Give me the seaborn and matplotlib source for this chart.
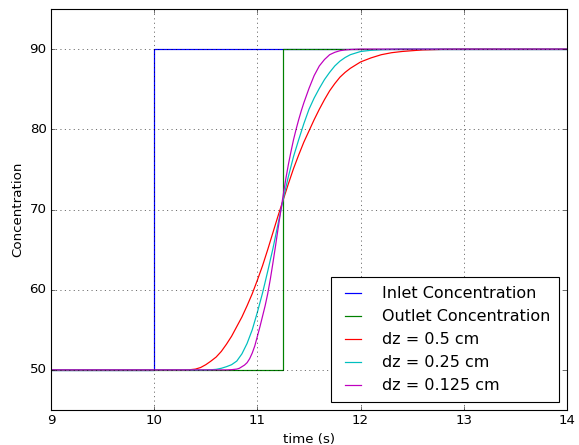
import matplotlib
matplotlib.use("Agg")
import matplotlib.pyplot as plt
import seaborn as sns
import pandas as pd

# ---- data ----
inlet_t = [9.0, 10.0, 10.0, 14.0]
inlet_c = [50.0, 50.0, 90.0, 90.0]

outlet_t = [9.0, 11.25, 11.25, 14.0]
outlet_c = [50.0, 50.0, 90.0, 90.0]

dz05_t = [9.0, 10.3, 10.35, 10.4, 10.45, 10.5, 10.55, 10.6, 10.65, 10.7, 10.75,
          10.8, 10.85, 10.9, 10.95, 11.0, 11.05, 11.1, 11.15, 11.2, 11.25, 11.3,
          11.35, 11.4, 11.45, 11.5, 11.55, 11.6, 11.65, 11.7, 11.75, 11.8, 11.85,
          11.9, 11.95, 12.0, 12.1, 12.2, 12.3, 12.4, 12.6, 12.8, 13.0, 14.0]
dz05_c = [50.0, 50.0, 50.03, 50.1, 50.3, 50.65, 51.1, 51.6, 52.3, 53.2, 54.2,
          55.4, 56.6, 58.0, 59.5, 61.2, 63.0, 65.0, 67.1, 69.2, 71.2, 73.2,
          75.1, 76.8, 78.4, 79.8, 81.2, 82.5, 83.7, 84.8, 85.7, 86.5, 87.1,
          87.6, 88.0, 88.4, 88.9, 89.3, 89.55, 89.7, 89.9, 89.97, 90.0, 90.0]

dz025_t = [9.0, 10.5, 10.55, 10.6, 10.65, 10.7, 10.75, 10.8, 10.85, 10.9, 10.95,
           11.0, 11.05, 11.1, 11.15, 11.2, 11.25, 11.3, 11.35, 11.4, 11.45, 11.5,
           11.55, 11.6, 11.65, 11.7, 11.75, 11.8, 11.85, 11.9, 12.0, 12.1, 12.2,
           12.4, 14.0]
dz025_c = [50.0, 50.0, 50.02, 50.07, 50.2, 50.4, 50.65, 51.1, 52.0, 53.3, 55.0,
           57.2, 59.6, 62.3, 65.1, 68.2, 71.3, 74.1, 76.6, 78.7, 80.7, 82.5,
           83.9, 85.1, 86.2, 87.1, 87.9, 88.5, 88.95, 89.3, 89.7, 89.85, 89.93,
           90.0, 90.0]

dz0125_t = [9.0, 10.7, 10.75, 10.8, 10.825, 10.85, 10.875, 10.9, 10.925, 10.95,
            10.975, 11.0, 11.025, 11.05, 11.075, 11.1, 11.125, 11.15, 11.175,
            11.2, 11.225, 11.25, 11.275, 11.3, 11.325, 11.35, 11.375, 11.4,
            11.425, 11.45, 11.475, 11.5, 11.525, 11.55, 11.575, 11.6, 11.625,
            11.65, 11.675, 11.7, 11.725, 11.75, 11.8, 11.85, 11.9, 12.0, 14.0]
dz0125_c = [50.0, 50.0, 50.03, 50.1, 50.2, 50.4, 50.6, 50.9, 51.4, 52.1,
            53.0, 54.2, 55.4, 56.7, 58.0, 59.5, 61.3, 63.3, 65.4,
            67.6, 69.7, 71.8, 73.8, 75.6, 77.2, 78.7, 80.0, 81.2,
            82.3, 83.3, 84.2, 85.1, 85.9, 86.7, 87.3, 87.9, 88.3,
            88.7, 89.0, 89.3, 89.45, 89.6, 89.8, 89.9, 89.95, 90.0, 90.0]

series_names = ["Inlet Concentration", "Outlet Concentration",
                "dz = 0.5 cm", "dz = 0.25 cm", "dz = 0.125 cm"]
series_colors = ["b", "g", "r", "c", "m"]
x_ticks = [9, 10, 11, 12, 13, 14]
y_ticks = [50, 60, 70, 80, 90]

frames = []
for name, t, c in zip(series_names,
                      [inlet_t, outlet_t, dz05_t, dz025_t, dz0125_t],
                      [inlet_c, outlet_c, dz05_c, dz025_c, dz0125_c]):
    frames.append(pd.DataFrame({"time": t, "conc": c, "series": name}))
df = pd.concat(frames, ignore_index=True)

plt.style.use("classic")
plt.rcParams["font.family"] = ["DejaVu Sans"]

fig = plt.figure(figsize=(579 / 80, 445 / 80), dpi=80)
ax = fig.add_axes([51 / 579, 1 - 410 / 445, (567 - 51) / 579, (410 - 9) / 445])

sns.lineplot(data=df, x="time", y="conc", hue="series",
             hue_order=series_names,
             palette=dict(zip(series_names, series_colors)),
             estimator=None, sort=False, linewidth=1.1, legend=False, ax=ax)

ax.set_xlim(9, 14)
ax.set_ylim(45, 95)
ax.set_xticks(x_ticks)
ax.set_yticks(y_ticks)
ax.set_xlabel("time (s)", fontsize=12)
ax.set_ylabel("Concentration", fontsize=12)
ax.tick_params(labelsize=12)
ax.grid(True, color="k", linestyle=":", linewidth=0.5)

leg = ax.legend(ax.lines[:len(series_names)], series_names,
                loc="lower right", fontsize=14.4,
                frameon=True, fancybox=False, shadow=False,
                handlelength=1.6, handletextpad=1.0, labelspacing=0.5,
                borderaxespad=0.5, borderpad=0.55)
leg.get_frame().set_edgecolor("k")
leg.get_frame().set_linewidth(1.0)

fig.savefig("out.png", dpi=80)
